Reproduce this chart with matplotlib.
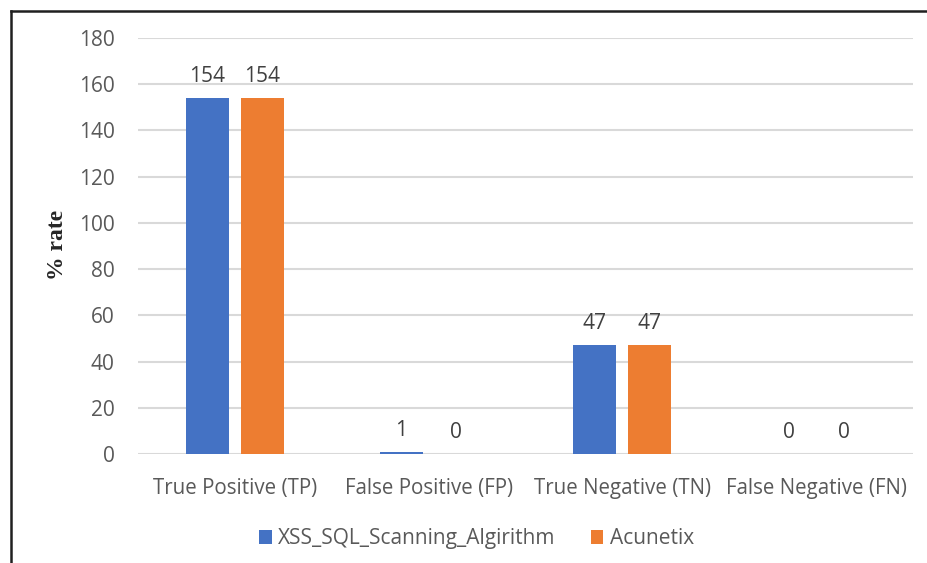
import numpy as np
import matplotlib.pyplot as plt
from matplotlib.lines import Line2D

# categories and counts
categories = ["True Positive (TP)", "False Positive (FP)", "True Negative (TN)", "False Negative (FN)"]
scanner = [154, 1, 47, 0]
acunetix = [154, 0, 47, 0]
series_names = ["XSS_SQL_Scanning_Algirithm", "Acunetix"]
yticks = [0, 20, 40, 60, 80, 100, 120, 140, 160, 180]

blue = "#4472c4"
orange = "#ed7d31"
grey = "#595959"
font = "Open Sans"

fig = plt.figure(figsize=(9.27, 5.63), dpi=100)
ax = fig.add_axes([0.149, 0.1936, 0.836, 0.7389])

x = np.arange(len(categories))
w = 0.222
off = 0.142
b1 = ax.bar(x - off, scanner, w, color=blue, label=series_names[0], zorder=3)
b2 = ax.bar(x + off, acunetix, w, color=orange, label=series_names[1], zorder=3)

for bars in (b1, b2):
    for r in bars:
        h = r.get_height()
        ax.annotate(str(int(h)), (r.get_x() + r.get_width() / 2, h),
                    xytext=(0, 8), textcoords="offset points",
                    ha="center", va="bottom", fontsize=15, color="#404040",
                    family=font)

ax.set_xlim(-0.5, 3.5)
ax.set_ylim(0, 180)
ax.set_yticks(yticks)
ax.set_yticklabels([str(v) for v in yticks], fontsize=15, color=grey, family=font)
ax.set_xticks(x)
ax.set_xticklabels(categories, fontsize=14.8, color=grey, family=font)
ax.tick_params(axis="both", length=0)
ax.tick_params(axis="y", pad=17)
ax.tick_params(axis="x", pad=17)
ax.yaxis.grid(True, color="#d9d9d9", linewidth=1.5, zorder=0)
for s in ax.spines.values():
    s.set_visible(False)

fig.text(0.062, 0.565, "% rate", rotation=90, ha="center", va="center",
         fontsize=17, fontweight="bold", family="Liberation Serif", color="#262626")

leg = fig.legend(loc="center", bbox_to_anchor=(0.514, 0.043), ncol=2, frameon=False,
                 handlelength=0.6, handleheight=0.6, handletextpad=0.3,
                 columnspacing=1.7, prop={"family": font, "size": 15})
for t in leg.get_texts():
    t.set_color(grey)

# outer frame
fig.add_artist(Line2D([11 / 927, 11 / 927], [0, 1 - 11 / 563], color="#202020", linewidth=1.8))
fig.add_artist(Line2D([11 / 927, 1], [1 - 11 / 563, 1 - 11 / 563], color="#202020", linewidth=1.8))

fig.savefig("out.png", dpi=100)
